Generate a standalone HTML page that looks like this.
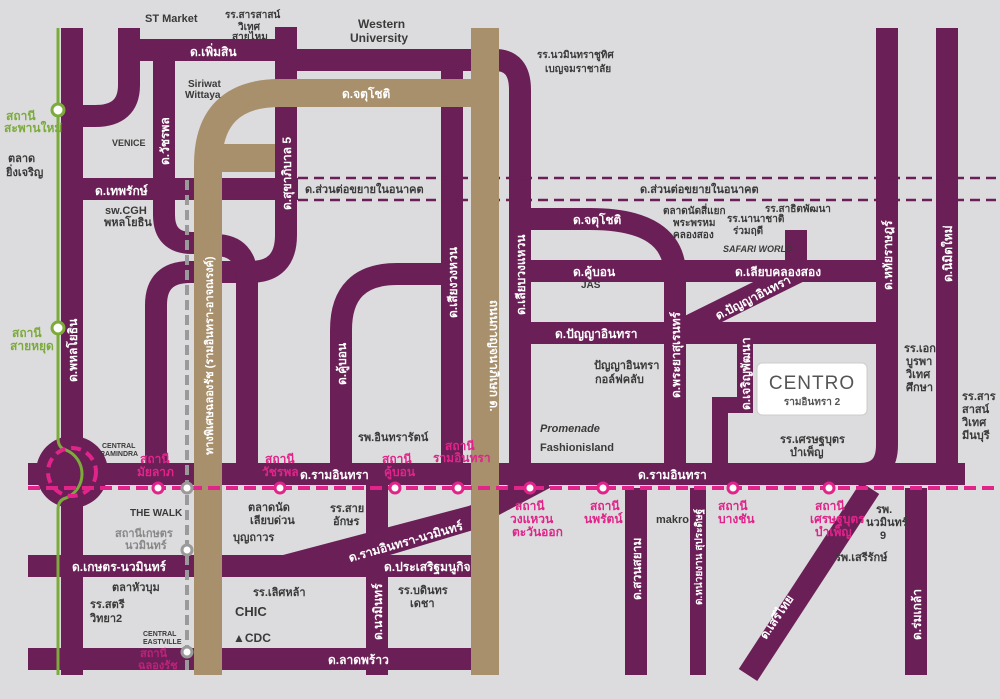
<!DOCTYPE html>
<html><head><meta charset="utf-8"><style>
html,body{margin:0;padding:0;background:#dcdcde;}
svg{display:block}
text{font-family:"Liberation Sans","Noto Sans CJK SC",sans-serif;}
.w{fill:#fff;font-size:12px;font-weight:bold}
.d{fill:#3a3a3a;font-size:11px;font-weight:bold}
.m{fill:#e0248a;font-size:12px;font-weight:bold}
.g{fill:#7cab3c;font-size:12px;font-weight:bold}
.t{fill:#fff;font-size:12px;font-weight:bold}
</style></head><body>
<svg width="1000" height="699" viewBox="0 0 1000 699" xmlns="http://www.w3.org/2000/svg">
<rect width="1000" height="699" fill="#dcdcde"/>
<g fill="none" stroke="#6b1f57" stroke-width="22" stroke-linejoin="round">
<path d="M72,28 V675"/>
<path d="M129,28 V85 Q129,116 95,116 H72"/>
<path d="M129,50 H286"/><path d="M286,27 V62"/><path d="M286,60 H480"/>
<path d="M164,50 V215 Q164,243 192,243 H205"/>
<path d="M72,189 H298"/>
<path d="M286,60 V235 Q286,272 250,272 H215"/>
<path d="M215,245 Q247,245 247,280 V474"/>
<path d="M156,474 V305 Q156,272 190,272 H205"/>
<path d="M28,474 H965"/>
<path d="M28,566 H480"/>
<path d="M28,659 H480"/>
<path d="M377,474 V675"/>
<path d="M341,474 V330 Q341,274 397,274 H452"/>
<path d="M452,60 V474"/>
<path d="M485,60 H495 Q520,60 520,90 V474"/>
<path d="M520,219 H590 Q675,219 675,275 V474"/>
<path d="M520,271 H887"/>
<path d="M796,230 V271"/>
<path d="M887,28 V445 Q887,474 860,474"/>
<path d="M947,28 V474"/>
<path d="M520,333 H887"/>
<path d="M675,333 L800,271"/>
<path d="M636,488 V675"/>
<path d="M870,488 L748,675"/>
<path d="M916,488 V675"/>
<path d="M470,518 L545,478"/>
</g>
<path d="M745,343 V405 H720 V474" fill="none" stroke="#6b1f57" stroke-width="16"/>
<path d="M698,488 V675" fill="none" stroke="#6b1f57" stroke-width="16"/>
<polygon points="283,555 480,503 480,528 390,555" fill="#6b1f57"/>
<circle cx="72" cy="472" r="36" fill="#6b1f57"/>
<g stroke="#6b1f57" stroke-width="2.5" stroke-dasharray="10,6">
<line x1="298" y1="178" x2="1000" y2="178"/><line x1="298" y1="200" x2="1000" y2="200"/>
</g>
<g fill="none" stroke="#a8906d" stroke-width="28">
<path d="M208,675 V165 Q208,93 280,93 H485"/>
<path d="M485,28 V675"/>
<path d="M208,158 H275"/>
</g>
<line x1="187" y1="180" x2="187" y2="675" stroke="#9a9a9a" stroke-width="4" stroke-dasharray="10,5"/>
<path d="M58,28 V438 Q58,448 66,450 A26,26 0 0 1 66,498 Q58,500 58,510 V675" fill="none" stroke="#7cab3c" stroke-width="3"/>
<circle cx="58" cy="110" r="6" fill="#fff" stroke="#7cab3c" stroke-width="3"/>
<circle cx="58" cy="328" r="6" fill="#fff" stroke="#7cab3c" stroke-width="3"/>
<line x1="28" y1="488" x2="1000" y2="488" stroke="#e0248a" stroke-width="4" stroke-dasharray="12,6"/>
<circle cx="72" cy="472" r="24" fill="none" stroke="#e0248a" stroke-width="4" stroke-dasharray="10,6"/>
<g fill="#fff" stroke="#e0248a" stroke-width="3">
<circle cx="158" cy="488" r="5"/><circle cx="280" cy="488" r="5"/><circle cx="395" cy="488" r="5"/><circle cx="458" cy="488" r="5"/>
<circle cx="530" cy="488" r="5"/><circle cx="603" cy="488" r="5"/><circle cx="733" cy="488" r="5"/><circle cx="829" cy="488" r="5"/>
</g>
<g fill="#fff" stroke="#9a9a9a" stroke-width="3">
<circle cx="187" cy="488" r="5"/><circle cx="187" cy="550" r="5"/><circle cx="187" cy="652" r="5"/>
</g>
<rect x="757" y="363" width="110" height="52" rx="5" fill="#fff" stroke="#ccc"/>
<text x="812" y="389" text-anchor="middle" style="font-size:19px;fill:#555;letter-spacing:1px">CENTRO</text>
<text x="812" y="405" text-anchor="middle" style="font-size:10px;fill:#555;font-weight:bold">รามอินทรา 2</text>
<text class="w" x="190" y="56">ด.เพิ่มสิน</text>
<text class="t" x="342" y="98">ด.จตุโชติ</text>
<text class="w" x="95" y="195">ด.เทพรักษ์</text>
<text class="w" x="300" y="479">ด.รามอินทรา</text>
<text class="w" x="638" y="479">ด.รามอินทรา</text>
<text class="w" x="72" y="571">ด.เกษตร-นวมินทร์</text>
<text class="w" x="384" y="571">ด.ประเสริฐมนูกิจ</text>
<text class="w" x="328" y="664">ด.ลาดพร้าว</text>
<text class="w" x="573" y="224">ด.จตุโชติ</text>
<text class="w" x="573" y="276">ด.คู้บอน</text>
<text class="w" x="735" y="276">ด.เลียบคลองสอง</text>
<text class="w" x="555" y="338">ด.ปัญญาอินทรา</text>
<text class="w" transform="translate(350,562) rotate(-16)">ด.รามอินทรา-นวมินทร์</text>
<text class="w" transform="translate(718,320) rotate(-27)">ด.ปัญญาอินทรา</text>
<text class="w" transform="translate(77,382) rotate(-90)">ด.พหลโยธิน</text>
<text class="w" transform="translate(169,165) rotate(-90)">ด.วัชรพล</text>
<text class="w" transform="translate(291,210) rotate(-90)">ด.สุขาภิบาล 5</text>
<text class="w" transform="translate(346,385) rotate(-90)">ด.คู้บอน</text>
<text class="w" transform="translate(457,318) rotate(-90)">ด.เสียงวงหวน</text>
<text class="w" transform="translate(525,315) rotate(-90)">ด.เลียบวงแหวน</text>
<text class="w" transform="translate(680,398) rotate(-90)">ด.พระยาสุเรนทร์</text>
<text class="w" transform="translate(750,410) rotate(-90)">ด.เจริญพัฒนา</text>
<text class="w" transform="translate(892,290) rotate(-90)">ด.หทัยราษฎร์</text>
<text class="w" transform="translate(952,282) rotate(-90)">ด.นิมิตใหม่</text>
<text class="w" transform="translate(382,640) rotate(-90)">ด.นวมินทร์</text>
<text class="w" transform="translate(641,600) rotate(-90)">ด.สวนสยาม</text>
<text class="w" transform="translate(702,605) rotate(-90)" style="font-size:10px">ด.หน่วยงาน สุประดิษฐ์</text>
<text class="w" transform="translate(766,640) rotate(-56)">ด.เสรีไทย</text>
<text class="w" transform="translate(921,640) rotate(-90)">ด.ร่มเกล้า</text>
<text class="w" transform="translate(213,455) rotate(-90)" style="fill:#fff;font-size:11px">ทางพิเศษฉลองรัช (รามอินทรา-อาจณรงค์)</text>
<text class="w" transform="translate(490,300) rotate(90)" style="font-size:12px">ถนนกาญจนาภิเษก ด.</text>
<text class="d" x="305" y="193">ด.ส่วนต่อขยายในอนาคต</text>
<text class="d" x="640" y="193">ด.ส่วนต่อขยายในอนาคต</text>
<text class="d" x="145" y="22">ST Market</text>
<text class="d" x="225" y="18" style="font-size:10px">รร.สารสาสน์</text>
<text class="d" x="238" y="30" style="font-size:10px">วิเทศ</text>
<text class="d" x="232" y="40" style="font-size:10px">สายไหม</text>
<text class="d" x="358" y="28" style="font-size:12px">Western</text>
<text class="d" x="350" y="42" style="font-size:12px">University</text>
<text class="d" x="537" y="58" style="font-size:10px">รร.นวมินทราชูทิศ</text>
<text class="d" x="545" y="72" style="font-size:10px">เบญจมราชาลัย</text>
<text class="d" x="188" y="87" style="font-size:10px">Siriwat</text>
<text class="d" x="185" y="98" style="font-size:10px">Wittaya</text>
<text class="d" x="112" y="146" style="font-size:9px">VENICE</text>
<text class="d" x="8" y="162">ตลาด</text>
<text class="d" x="6" y="176">ยิ่งเจริญ</text>
<text class="d" x="105" y="214">sw.CGH</text>
<text class="d" x="104" y="226">พหลโยธิน</text>
<text class="g" x="6" y="120">สถานี</text>
<text class="g" x="4" y="132">สะพานใหม่</text>
<text class="g" x="12" y="337">สถานี</text>
<text class="g" x="10" y="350">สายหยุด</text>
<text class="d" x="102" y="448" style="font-size:7px">CENTRAL</text>
<text class="d" x="100" y="456" style="font-size:7px">RAMINDRA</text>
<text class="d" x="130" y="516" style="font-size:10px">THE WALK</text>
<text x="115" y="537" style="fill:#888;font-size:11px;font-weight:bold">สถานีเกษตร</text>
<text x="125" y="549" style="fill:#888;font-size:11px;font-weight:bold">นวมินทร์</text>
<text class="d" x="112" y="591">ตลาหัวบุม</text>
<text class="d" x="90" y="608">รร.สตรี</text>
<text class="d" x="90" y="622">วิทยา2</text>
<text class="d" x="143" y="636" style="font-size:7px">CENTRAL</text>
<text class="d" x="143" y="644" style="font-size:7px">EASTVILLE</text>
<text x="140" y="657" style="fill:#e0248a;font-size:11px;font-weight:bold;opacity:.7">สถานี</text>
<text x="138" y="669" style="fill:#e0248a;font-size:11px;font-weight:bold;opacity:.7">ฉลองรัช</text>
<text class="d" x="248" y="511">ตลาดนัด</text>
<text class="d" x="250" y="524">เลียบด่วน</text>
<text class="d" x="233" y="541">บุญถาวร</text>
<text class="d" x="330" y="512">รร.สาย</text>
<text class="d" x="333" y="525">อักษร</text>
<text class="d" x="358" y="441">รพ.อินทรารัตน์</text>
<text class="d" x="253" y="596">รร.เลิศหล้า</text>
<text class="d" x="235" y="616" style="font-size:13px">CHIC</text>
<text class="d" x="233" y="642" style="font-size:12px">▲CDC</text>
<text class="d" x="398" y="594">รร.บดินทร</text>
<text class="d" x="410" y="607">เดชา</text>
<text class="d" x="581" y="288" style="font-size:10px">JAS</text>
<text class="d" x="594" y="369">ปัญญาอินทรา</text>
<text class="d" x="595" y="383">กอล์ฟคลับ</text>
<text class="d" x="540" y="432" style="font-size:11px;font-style:italic">Promenade</text>
<text class="d" x="540" y="451" style="font-size:11px">Fashionisland</text>
<text class="d" x="663" y="214" style="font-size:10px">ตลาดนัดสี่แยก</text>
<text class="d" x="673" y="226" style="font-size:10px">พระพรหม</text>
<text class="d" x="673" y="238" style="font-size:10px">คลองสอง</text>
<text class="d" x="727" y="222" style="font-size:10px">รร.นานาชาติ</text>
<text class="d" x="733" y="234" style="font-size:10px">ร่วมฤดี</text>
<text class="d" x="765" y="212" style="font-size:10px">รร.สาธิตพัฒนา</text>
<text class="d" x="723" y="252" style="font-size:9px;font-style:italic">SAFARI WORLD</text>
<text class="d" x="780" y="443">รร.เศรษฐบุตร</text>
<text class="d" x="790" y="456">บำเพ็ญ</text>
<text class="d" x="904" y="352">รร.เอก</text>
<text class="d" x="906" y="365">บูรพา</text>
<text class="d" x="906" y="378">วิเทศ</text>
<text class="d" x="906" y="391">ศึกษา</text>
<text class="d" x="962" y="400">รร.สาร</text>
<text class="d" x="962" y="413">สาสน์</text>
<text class="d" x="962" y="426">วิเทศ</text>
<text class="d" x="962" y="439">มีนบุรี</text>
<text class="d" x="876" y="513">รพ.</text>
<text class="d" x="866" y="526">นวมินทร์</text>
<text class="d" x="880" y="539">9</text>
<text class="d" x="835" y="561">รพ.เสรีรักษ์</text>
<text class="d" x="656" y="523">makro</text>
<text class="m" x="140" y="463">สถานี</text><text class="m" x="137" y="476">มัยลาภ</text>
<text class="m" x="265" y="463">สถานี</text><text class="m" x="262" y="476">วัชรพล</text>
<text class="m" x="382" y="463">สถานี</text><text class="m" x="384" y="476">คู้บอน</text>
<text class="m" x="445" y="450">สถานี</text><text class="m" x="433" y="462">รามอินทรา</text>
<text class="m" x="515" y="510">สถานี</text><text class="m" x="510" y="523">วงแหวน</text><text class="m" x="512" y="536">ตะวันออก</text>
<text class="m" x="590" y="510">สถานี</text><text class="m" x="584" y="523">นพรัตน์</text>
<text class="m" x="718" y="510">สถานี</text><text class="m" x="718" y="523">บางชัน</text>
<text class="m" x="815" y="510">สถานี</text><text class="m" x="810" y="523">เศรษฐบุตร</text><text class="m" x="815" y="536">บำเพ็ญ</text>
</svg>
</body></html>
